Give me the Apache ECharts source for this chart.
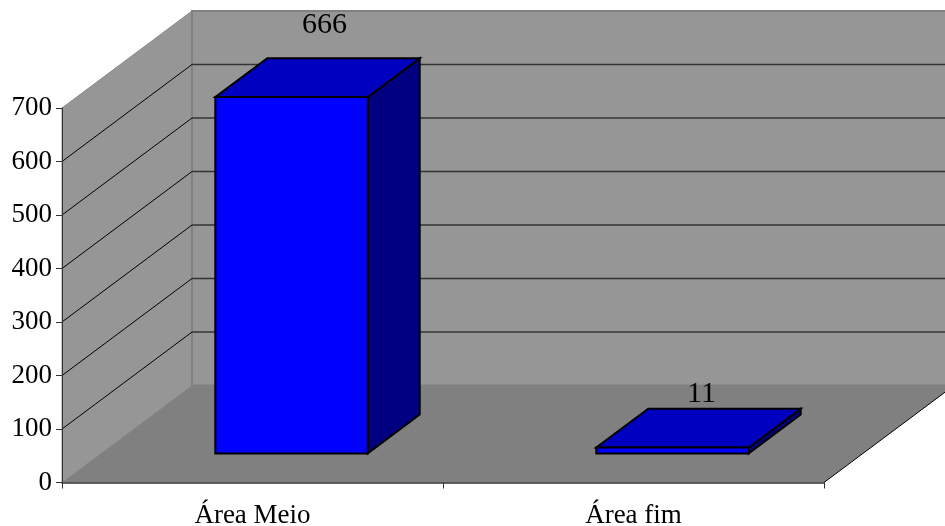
<!DOCTYPE html>
<html>
<head>
<meta charset="utf-8">
<script src="https://cdn.jsdelivr.net/npm/echarts@6/dist/echarts.min.js"></script>
<style>html,body{margin:0;padding:0;background:#fff}#chart{width:945px;height:526px}</style>
</head>
<body>
<div id="chart"></div>
<script>
// Chart data
const categories = ['Área Meio', 'Área fim'];
const values = [666, 11];
const axisMax = 700;
const axisStep = 100;

// Oblique projection: how far the back plane sits from the front plane, in pixels
const DEPTH = { x: 130, y: -97 };
const BAR_DEPTH_START = 0.3;
const BAR_DEPTH_END = 0.7;
const BAR_WIDTH_RATIO = 0.4;
// Extra label placement per bar, relative to the rear edge of its top face
const LABEL_NUDGE = [[7, -18], [3, 0]];

const SERIF = '"Liberation Serif", "Times New Roman", serif';
const FONT_SIZE = 27;
const VALUE_FONT_SIZE = 30;
const COLORS = {
  wall: '#969696', floor: '#808080', wallEdge: '#808080', grid: '#333333',
  front: '#0000ff', top: '#0000c0', side: '#000080', ink: '#000000'
};

const shift = (p, d) => [p[0] + DEPTH.x * d, p[1] + DEPTH.y * d];
const poly = (points, fill, stroke, lineWidth) => ({
  type: 'polygon',
  shape: { points },
  style: { fill, stroke: stroke || null, lineWidth: lineWidth || 0 }
});
const line = (a, b, stroke, lineWidth) => ({
  type: 'line',
  shape: { x1: a[0], y1: a[1], x2: b[0], y2: b[1] },
  style: { stroke, lineWidth }
});

// Side wall, back wall, floor and their gridlines
function renderRoom(params, api) {
  const band = api.size([1, 0])[0];
  const xL = api.coord([0, 0])[0] - band / 2;
  const xR = api.coord([categories.length - 1, 0])[0] + band / 2;
  const y0 = api.coord([0, 0])[1];
  const yT = api.coord([0, axisMax])[1];
  const a = [xL, y0], b = [xR, y0], c = [xL, yT], d = [xR, yT];
  const children = [
    poly([a, shift(a, 1), shift(c, 1), c], COLORS.wall, '#8c8c8c', 1),
    poly([shift(a, 1), shift(b, 1), shift(d, 1), shift(c, 1)], COLORS.wall, COLORS.wallEdge, 2),
    poly([a, b, shift(b, 1), shift(a, 1)], COLORS.floor),
    line(b, shift(b, 1), COLORS.ink, 1)
  ];
  for (let v = axisStep; v <= axisMax - axisStep; v += axisStep) {
    const y = api.coord([0, v])[1];
    children.push(line([xL, y], shift([xL, y], 1), COLORS.ink, 1));
    children.push(line(shift([xL, y], 1), shift([xR, y], 1), COLORS.grid, 1.5));
  }
  return { type: 'group', children };
}

// One oblique box per category, with its value written above it
function renderBar(params, api) {
  const i = api.value(0);
  const v = api.value(1);
  const band = api.size([1, 0])[0];
  const half = band * BAR_WIDTH_RATIO / 2;
  const cx = api.coord([i, 0])[0];
  const base = api.coord([i, 0])[1];
  const top = api.coord([i, v])[1];
  const d0 = BAR_DEPTH_START, span = BAR_DEPTH_END - BAR_DEPTH_START;
  const bl = shift([cx - half, base], d0), br = shift([cx + half, base], d0);
  const tl = shift([cx - half, top], d0), tr = shift([cx + half, top], d0);
  const back = (p) => shift(p, span);
  const labelPos = [(tl[0] + back(tr)[0]) / 2 + LABEL_NUDGE[i][0], back(tl)[1] + LABEL_NUDGE[i][1]];
  const edge = { stroke: COLORS.ink, width: 2 };
  return {
    type: 'group',
    children: [
      poly([br, back(br), back(tr), tr], COLORS.side, edge.stroke, edge.width),
      poly([tl, tr, back(tr), back(tl)], COLORS.top, edge.stroke, edge.width),
      poly([bl, br, tr, tl], COLORS.front, edge.stroke, edge.width),
      {
        type: 'text',
        x: labelPos[0],
        y: labelPos[1],
        style: {
          text: String(v),
          font: VALUE_FONT_SIZE + 'px ' + SERIF,
          fill: COLORS.ink,
          align: 'center',
          verticalAlign: 'bottom'
        }
      }
    ]
  };
}

const chart = echarts.init(document.getElementById('chart'), null, { renderer: 'canvas' });
chart.setOption({
  animation: false,
  backgroundColor: '#ffffff',
  grid: { left: 62, right: 121, top: 108, bottom: 43.5, outerBoundsMode: 'none' },
  xAxis: {
    type: 'category',
    data: categories,
    z: 5,
    boundaryGap: true,
    axisLine: { lineStyle: { color: '#333333', width: 1.5 } },
    axisTick: { show: true, alignWithLabel: false, length: 6, lineStyle: { color: '#333333', width: 1 } },
    axisLabel: { fontFamily: SERIF, fontSize: FONT_SIZE, color: COLORS.ink, margin: 20 },
    splitLine: { show: false }
  },
  yAxis: {
    type: 'value',
    min: 0,
    max: axisMax,
    interval: axisStep,
    z: 5,
    axisLine: { show: true, lineStyle: { color: '#333333', width: 1 } },
    axisTick: { show: true, length: 6, lineStyle: { color: '#333333', width: 1 } },
    axisLabel: { fontFamily: SERIF, fontSize: FONT_SIZE, color: COLORS.ink, margin: 10, padding: [4, 0, 0, 0] },
    splitLine: { show: false }
  },
  series: [
    {
      type: 'custom',
      coordinateSystem: 'cartesian2d',
      clip: false,
      silent: true,
      z: 1,
      renderItem: renderRoom,
      data: [[0, 0]]
    },
    {
      type: 'custom',
      coordinateSystem: 'cartesian2d',
      clip: false,
      z: 2,
      renderItem: renderBar,
      encode: { x: 0, y: 1 },
      data: values.map((v, i) => [i, v])
    }
  ]
});
</script>
</body>
</html>
